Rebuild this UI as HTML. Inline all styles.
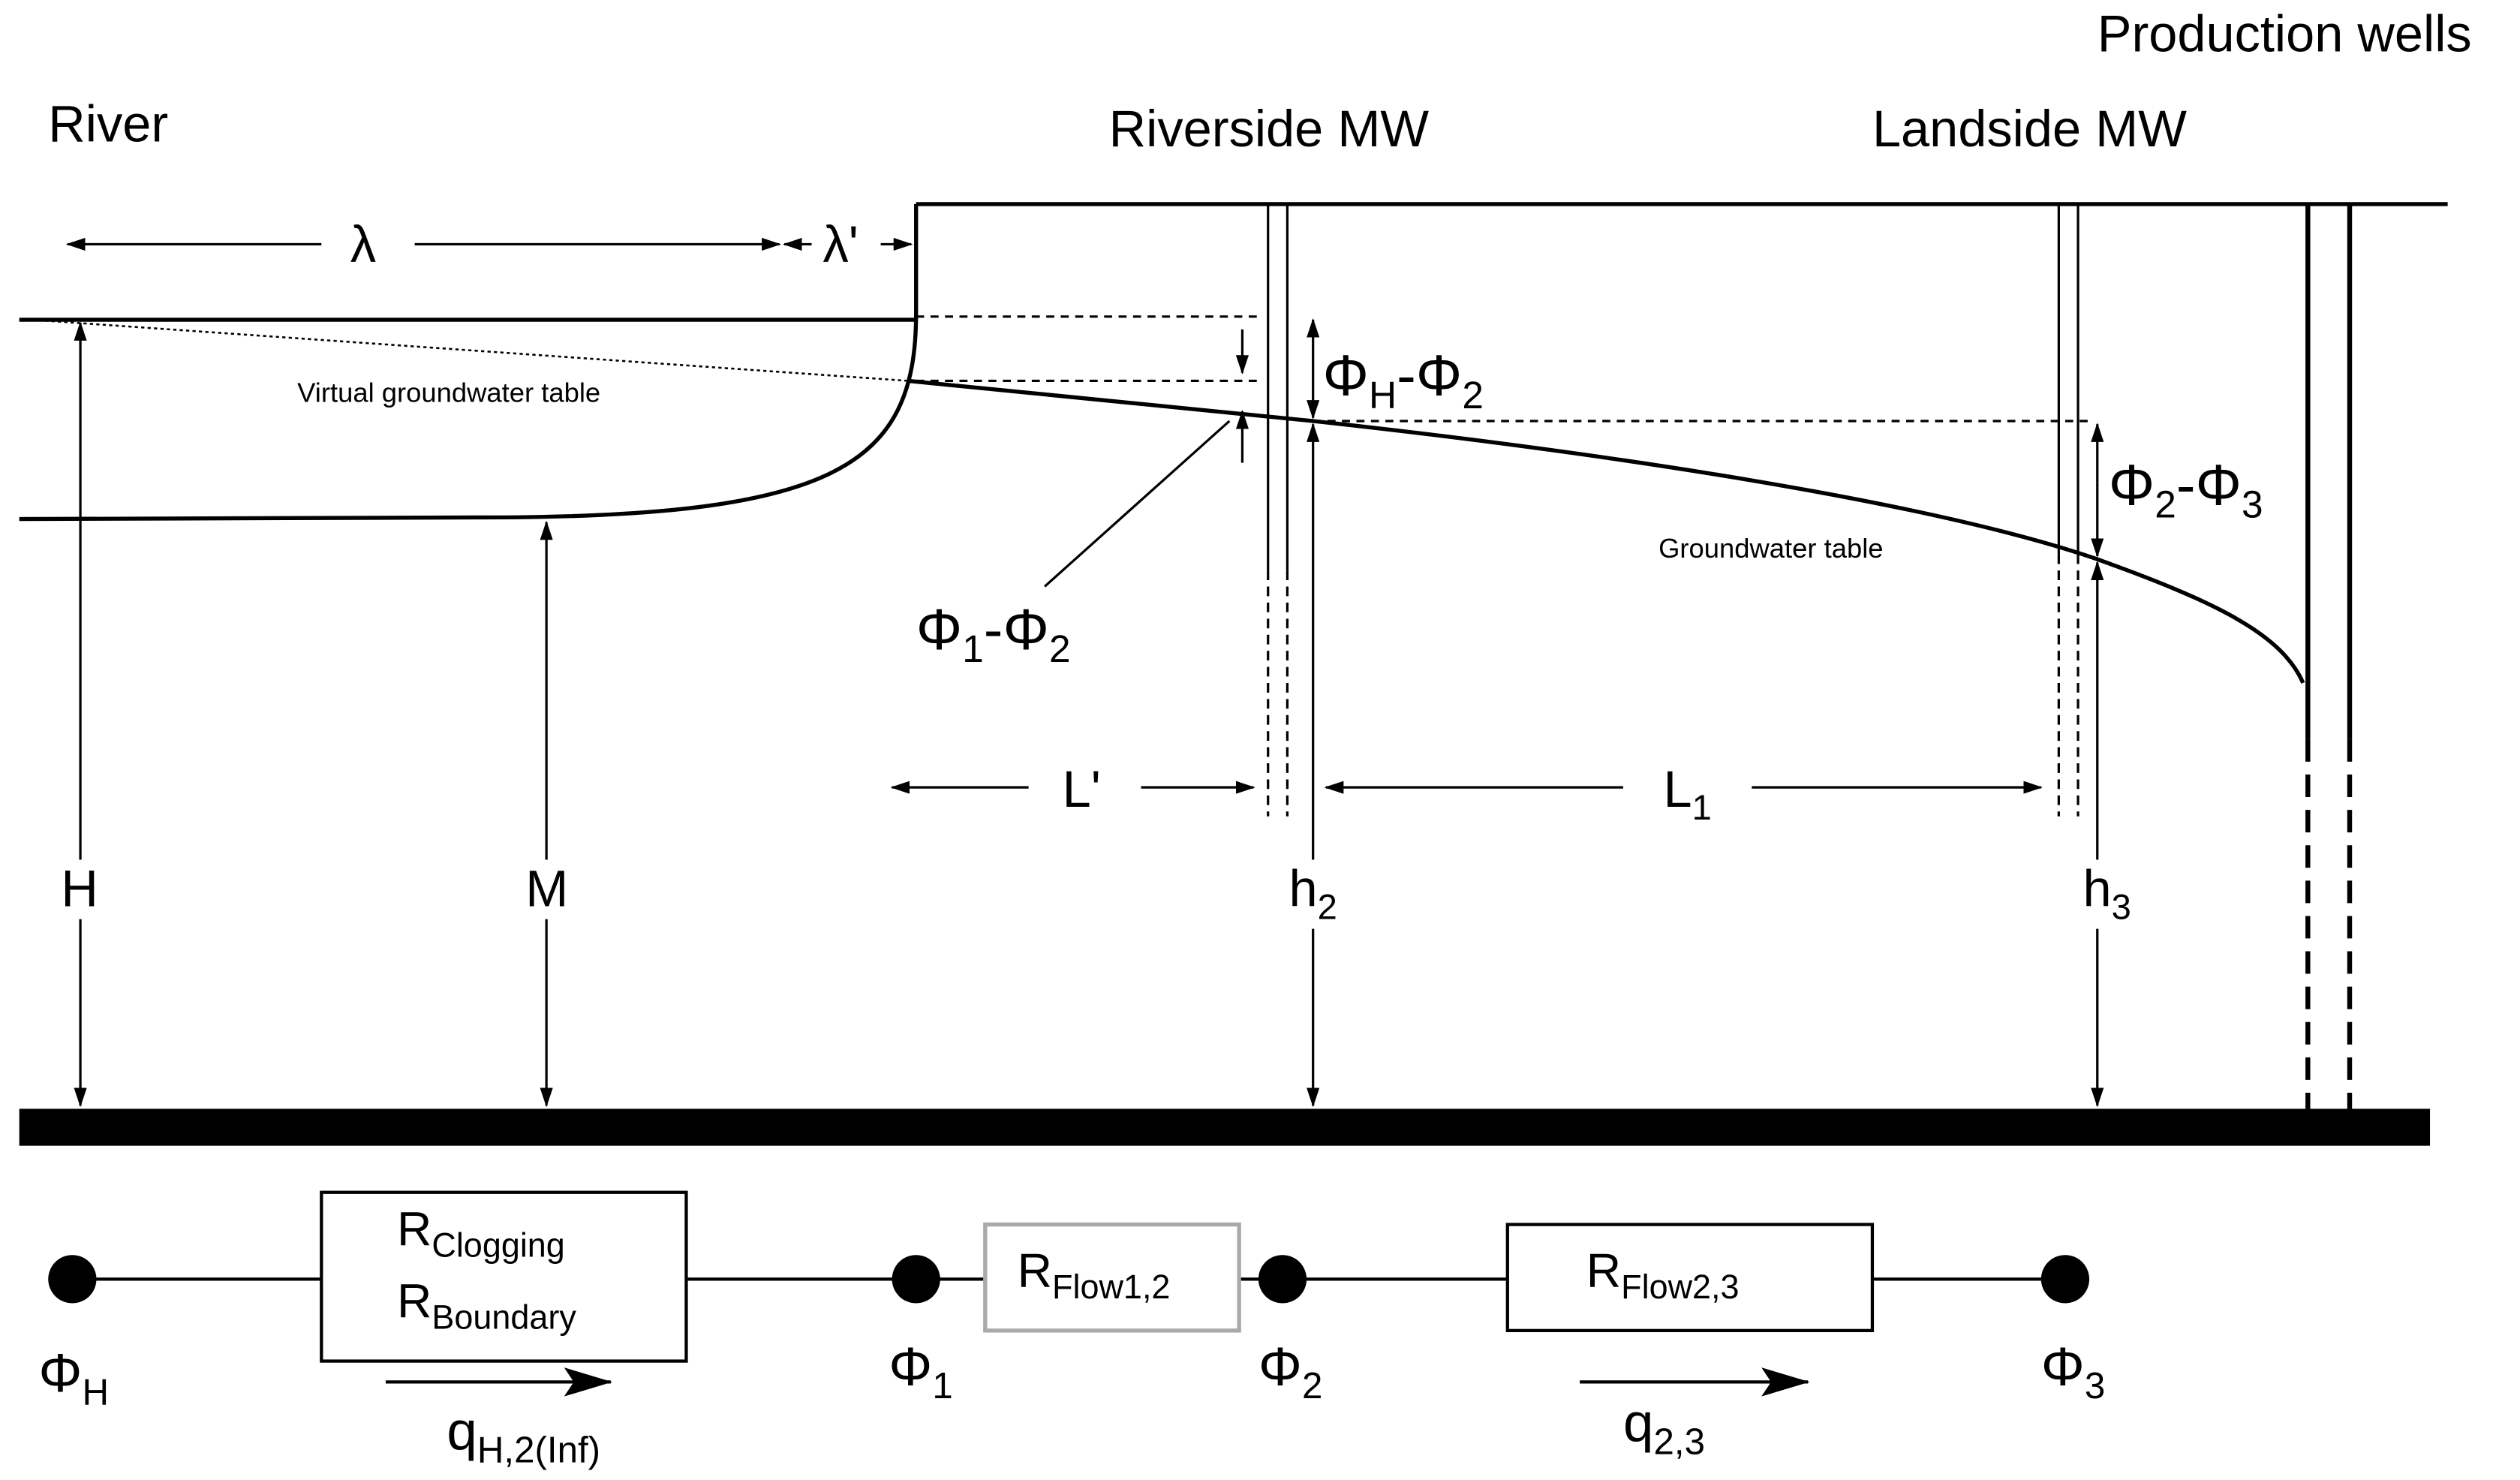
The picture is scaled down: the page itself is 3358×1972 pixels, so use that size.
<!DOCTYPE html>
<html><head><meta charset="utf-8"><style>html,body{margin:0;padding:0;background:#fff}svg{display:block}text{font-family:"Liberation Sans",sans-serif;fill:#000}</style></head>
<body>
<svg width="3358" height="1972" viewBox="0 0 1568 921" preserveAspectRatio="none" xmlns="http://www.w3.org/2000/svg">
<defs>
<marker id="a" markerWidth="12" markerHeight="8" refX="11" refY="4" orient="auto" markerUnits="userSpaceOnUse"><path d="M0,0 L12,4 L0,8 Z" fill="#000"/></marker>
<marker id="c" markerWidth="30" markerHeight="18" refX="29" refY="9" orient="auto" markerUnits="userSpaceOnUse"><path d="M0,0 L30,9 L0,18 L6,9 Z" fill="#000"/></marker>
</defs>
<g font-size="32">
<text x="1305" y="32">Production wells</text>
<text x="30" y="88">River</text>
<text x="690" y="91">Riverside MW</text>
<text x="1165" y="91">Landside MW</text>
</g>
<g stroke="#000" fill="none" stroke-width="2.5">
<path d="M570,127 H1523"/>
<path d="M570,127 V195 C570,290 520,322 300,322 L12,323"/>
<path d="M12,199 H570"/>
<path d="M565,237 L817,262 C1000,282 1200,312 1305,348 C1380,375 1420,395 1433,425"/>
</g>
<path d="M20,199 L565,237" stroke="#000" stroke-width="1.2" stroke-dasharray="2,2"/>
<g stroke="#000" stroke-width="1.5" fill="none">
<path d="M789,127 V355 M801,127 V355 M1281,127 V345 M1293,127 V345"/>
<path d="M789,355 V508 M801,355 V508 M1281,345 V508 M1293,345 V508" stroke-dasharray="6,4"/>
<path d="M570,197 H785 M570,237 H785 M817,262 H1300" stroke-dasharray="5,4"/>
<path d="M650,365 L765,262"/>
</g>
<g stroke="#000" stroke-width="3" fill="none">
<path d="M1436,127 V460 M1462,127 V460"/>
<path d="M1436,460 V690 M1462,460 V690" stroke-dasharray="14,8"/>
</g>
<g stroke="#000" stroke-width="1.5" fill="none">
<path d="M200,152 H42" marker-end="url(#a)"/><path d="M258,152 H485" marker-end="url(#a)"/>
<path d="M505,152 H488" marker-end="url(#a)"/><path d="M548,152 H567" marker-end="url(#a)"/>
<path d="M773,205 V232" marker-end="url(#a)"/><path d="M773,288 V256" marker-end="url(#a)"/>
<path d="M817,230 V199" marker-end="url(#a)"/><path d="M817,230 V260" marker-end="url(#a)"/>
<path d="M817,400 V264" marker-end="url(#a)"/><path d="M817,400 V535"/><path d="M817,578 V688" marker-end="url(#a)"/>
<path d="M1305,300 V264" marker-end="url(#a)"/><path d="M1305,300 V346" marker-end="url(#a)"/>
<path d="M1305,450 V350" marker-end="url(#a)"/><path d="M1305,450 V535"/><path d="M1305,578 V688" marker-end="url(#a)"/>
<path d="M50,535 V201" marker-end="url(#a)"/><path d="M50,572 V688" marker-end="url(#a)"/>
<path d="M340,535 V325" marker-end="url(#a)"/><path d="M340,572 V688" marker-end="url(#a)"/>
<path d="M640,490 H555" marker-end="url(#a)"/><path d="M710,490 H780" marker-end="url(#a)"/>
<path d="M1010,490 H825" marker-end="url(#a)"/><path d="M1090,490 H1270" marker-end="url(#a)"/>
</g>
<rect x="12" y="690" width="1500" height="23" fill="#000"/>
<g font-size="36">
<text x="218" y="163" font-size="32">λ</text><text x="512" y="163" font-size="32">λ'</text>
<text x="823" y="246">Φ<tspan font-size="24" dy="8">H</tspan><tspan dy="-8">-Φ</tspan><tspan font-size="24" dy="8">2</tspan></text>
<text x="1312" y="314">Φ<tspan font-size="24" dy="8">2</tspan><tspan dy="-8">-Φ</tspan><tspan font-size="24" dy="8">3</tspan></text>
<text x="570" y="404">Φ<tspan font-size="24" dy="8">1</tspan><tspan dy="-8">-Φ</tspan><tspan font-size="24" dy="8">2</tspan></text>
<text x="661" y="502" font-size="32">L'</text>
<text x="1035" y="502" font-size="32">L<tspan font-size="22" dy="8">1</tspan></text>
<text x="38" y="564" font-size="32">H</text><text x="327" y="564" font-size="32">M</text>
<text x="802" y="564" font-size="32">h<tspan font-size="22" dy="8">2</tspan></text>
<text x="1296" y="564" font-size="32">h<tspan font-size="22" dy="8">3</tspan></text>
</g>
<text x="185" y="250" font-size="17">Virtual groundwater table</text>
<text x="1032" y="347" font-size="17">Groundwater table</text>
<g stroke="#000" stroke-width="2" fill="none">
<path d="M45,796 H200 M427,796 H613 M771,796 H938 M1165,796 H1285"/>
<rect x="200" y="742" width="227" height="105"/>
<rect x="938" y="762" width="227" height="66"/>
<rect x="613" y="762" width="158" height="66" stroke="#aaa" stroke-width="2.5"/>
<path d="M240,860 H380" marker-end="url(#c)"/>
<path d="M983,860 H1125" marker-end="url(#c)"/>
</g>
<g fill="#000"><circle cx="45" cy="796" r="15"/><circle cx="570" cy="796" r="15"/><circle cx="798" cy="796" r="15"/><circle cx="1285" cy="796" r="15"/></g>
<g font-size="30">
<text x="247" y="775">R<tspan font-size="21" dy="7">Clogging</tspan></text>
<text x="247" y="820">R<tspan font-size="21" dy="7">Boundary</tspan></text>
<text x="633" y="801">R<tspan font-size="21" dy="7">Flow1,2</tspan></text>
<text x="987" y="801">R<tspan font-size="21" dy="7">Flow2,3</tspan></text>
</g>
<g font-size="34">
<text x="24" y="866">Φ<tspan font-size="23" dy="8">H</tspan></text>
<text x="553" y="862">Φ<tspan font-size="23" dy="8">1</tspan></text>
<text x="783" y="862">Φ<tspan font-size="23" dy="8">2</tspan></text>
<text x="1270" y="862">Φ<tspan font-size="23" dy="8">3</tspan></text>
<text x="278" y="902">q<tspan font-size="23" dy="8">H,2(Inf)</tspan></text>
<text x="1010" y="897">q<tspan font-size="23" dy="8">2,3</tspan></text>
</g>
</svg>
</body></html>
